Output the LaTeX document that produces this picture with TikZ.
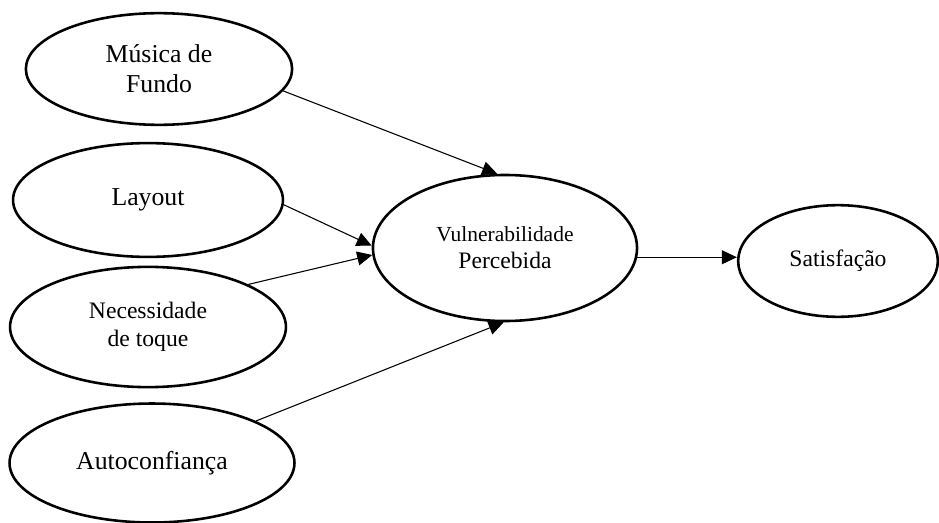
\documentclass[tikz,border=0pt]{standalone}
\usepackage{fontspec}
\setmainfont{Liberation Serif}
\usetikzlibrary{arrows.meta,shapes.geometric}

\begin{document}
\begin{tikzpicture}[x=0.4657pt, y=-0.4657pt, >={Triangle[length=7pt,width=6.5pt]},
  var/.style={ellipse, draw=black, line width=1.2pt, inner sep=0pt, align=center,
              font=\fontsize{12}{14}\selectfont},
  lnk/.style={->, line width=0.5pt}]
  \useasboundingbox (0,0) rectangle (939,523);
  % antecedents
  \node[var, minimum width=124pt, minimum height=52pt] (mus) at (159,69) {Música de\\Fundo};
  \node[var, minimum width=125.7pt, minimum height=53pt] (lay) at (148,200) {Layout};
  \node[var, minimum width=128.5pt, minimum height=56pt,
        font=\fontsize{11}{13}\selectfont] (nec) at (148,327) {Necessidade\\de toque};
  \node[var, minimum width=132.7pt, minimum height=55.4pt] (aut) at (152,463) {Autoconfiança};
  % mediator and outcome
  \node[var, minimum width=123pt, minimum height=68pt,
        font=\fontsize{11}{12.5}\selectfont] (vul) at (505,248)
        {{\fontsize{10}{12.5}\selectfont Vulnerabilidade}\\Percebida};
  \node[var, minimum width=93pt, minimum height=52pt,
        font=\fontsize{11}{13}\selectfont] (sat) at (838,261) {Satisfação};
  % paths
  \draw[lnk] (mus.-10) -- (vul.96);
  \draw[lnk] (lay.-2) -- (vul.179);
  \draw[lnk] (nec.23) -- (vul.183);
  \draw[lnk] (aut.22) -- (vul.-91);
  \draw[lnk] (vul.-4) -- (vul.-4 -| sat.west);
\end{tikzpicture}
\end{document}
